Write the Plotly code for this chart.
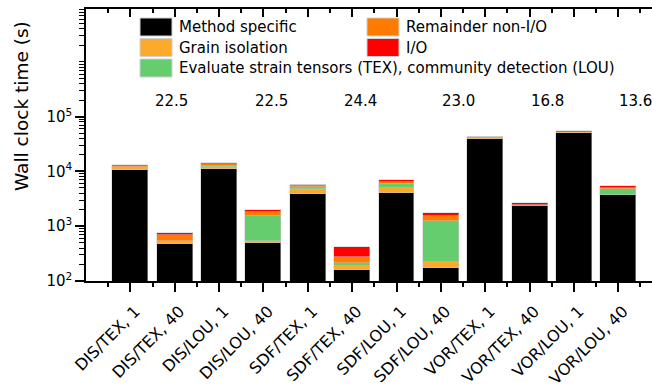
import plotly.graph_objects as go

# Run configurations (method / analysis, thread count)
categories = [
    "DIS/TEX, 1", "DIS/TEX, 40", "DIS/LOU, 1", "DIS/LOU, 40",
    "SDF/TEX, 1", "SDF/TEX, 40", "SDF/LOU, 1", "SDF/LOU, 40",
    "VOR/TEX, 1", "VOR/TEX, 40", "VOR/LOU, 1", "VOR/LOU, 40",
]

# Wall clock time per stage (s)
method_specific = [10840, 482, 10900, 484, 3820, 156.5, 3980, 173, 39000, 2321, 49500, 3640]
grain_isolation = [940, 55, 1130, 53, 1010, 33.5, 1060, 46, 2500, 30, 3000, 60]
strain_community = [150, 10, 670, 998, 430, 23, 850, 1026, 100, 10, 100, 1000]
remainder_non_io = [770, 144, 780, 305, 310, 58, 520, 311, 500, 110, 900, 270]
io_time = [400, 50, 580, 160, 70, 141, 560, 164, 300, 210, 400, 360]

series = [
    ("Method specific", method_specific, "#000000"),
    ("Grain isolation", grain_isolation, "#FBAA2C"),
    ("Evaluate strain tensors (TEX), community detection (LOU)", strain_community, "#66CD6E"),
    ("Remainder non-I/O", remainder_non_io, "#FF7B00"),
    ("I/O", io_time, "#FF0000"),
]

FONT = "DejaVu Sans"
W, H = 652, 392
L, R, T, B = 86, 0, 9, 111
PW, PH = W - L - R, H - T - B

def px(x):
    return (x - L) / PW

def py(y):
    return (H - B - y) / PH

xpos = list(range(len(categories)))

fig = go.Figure()
for name, vals, color in series:
    fig.add_trace(go.Bar(
        x=xpos, y=vals, name=name, width=0.81,
        marker=dict(color=color, line=dict(color="#c8c8c8", width=0.5)),
        showlegend=False,
    ))

# helper trace so the mirrored top axis is drawn
fig.add_trace(go.Scatter(x=[None], y=[None], xaxis="x2", showlegend=False,
                         hoverinfo="skip"))

# speed-up (1 thread vs 40 threads) of the method-specific stage
label_offsets = [-0.08, 0.18, 0.19, 0.39, 0.40, 0.39]
for k in range(len(categories) // 2):
    s = method_specific[2 * k] / method_specific[2 * k + 1]
    fig.add_annotation(
        x=2 * k + 1 + label_offsets[k], y=5.285, xref="x", yref="y",
        text=f"{s:.1f}", showarrow=False,
        font=dict(family=FONT, size=15, color="black"),
    )

# legend drawn as swatches + text
legend_items = [
    (0, 0, 0), (0, 1, 1), (0, 2, 2), (1, 0, 3), (1, 1, 4),
]
col_x = [140, 367]
row_y = [27, 47.5, 68]
sw_w, sw_h = 32, 18
for col, row, idx in legend_items:
    name, _, color = series[idx]
    x0 = col_x[col]
    yc = row_y[row]
    fig.add_shape(type="rect", xref="paper", yref="paper",
                  x0=px(x0), x1=px(x0 + sw_w), y0=py(yc + sw_h / 2), y1=py(yc - sw_h / 2),
                  fillcolor=color, line=dict(color="#d0d0d0", width=1))
    fig.add_annotation(x=px(x0 + sw_w + 5), y=py(yc), xref="paper", yref="paper",
                       xanchor="left", yanchor="middle", text=name, showarrow=False,
                       font=dict(family=FONT, size=15, color="black"))

# y-axis title
fig.add_annotation(x=px(22), y=py(106), xref="paper", yref="paper",
                   text="Wall clock time (s)", textangle=-90, showarrow=False,
                   xanchor="center", yanchor="middle",
                   font=dict(family=FONT, size=18.5, color="black"))

half_ticks = [i - 0.5 for i in range(len(categories) + 1)]
x_range = [-1.0, 11.76]

major_y = [1e2, 1e3, 1e4, 1e5]
major_y_text = ["10<sup>2</sup>", "10<sup>3</sup>", "10<sup>4</sup>", "10<sup>5</sup>"]
minor_y = [k * 10 ** n for n in range(2, 7) for k in range(2, 10)] + [1e6]

fig.update_layout(
    width=W, height=H,
    margin=dict(l=L, r=R, t=T, b=B, pad=0),
    barmode="stack",
    bargap=0,
    plot_bgcolor="white", paper_bgcolor="white",
    font=dict(family=FONT, size=15, color="black"),
    showlegend=False,
    xaxis=dict(
        range=x_range, tickmode="array", tickvals=xpos, ticktext=categories,
        tickangle=-45, ticks="outside", ticklen=9, tickwidth=1.5, tickcolor="black",
        showline=True, linecolor="black", linewidth=1.5, showgrid=False, zeroline=False,
        tickfont=dict(family=FONT, size=16), ticklabelshift=5, ticklabelstandoff=4,
        minor=dict(tickmode="array", tickvals=half_ticks, ticks="outside", ticklen=4,
                   tickwidth=1.5, tickcolor="black", showgrid=False),
    ),
    xaxis2=dict(
        overlaying="x", side="top", range=x_range, tickmode="array", tickvals=xpos,
        showticklabels=False, ticks="inside", ticklen=8, tickwidth=1.5, tickcolor="black",
        showline=True, linecolor="black", linewidth=1.5, showgrid=False, zeroline=False,
        minor=dict(tickmode="array", tickvals=half_ticks, ticks="inside", ticklen=4,
                   tickwidth=1.5, tickcolor="black", showgrid=False),
    ),
    yaxis=dict(
        type="log", range=[2, 6.965], tickmode="array", tickvals=major_y,
        ticktext=major_y_text, ticks="outside", ticklen=9, tickwidth=1.5, tickcolor="black",
        showline=True, linecolor="black", linewidth=1.5, showgrid=False, zeroline=False,
        tickfont=dict(family=FONT, size=15),
        minor=dict(tickmode="array", tickvals=minor_y, ticks="outside", ticklen=5,
                   tickwidth=1.2, tickcolor="black", showgrid=False),
    ),
)

fig.write_html("out.html")
